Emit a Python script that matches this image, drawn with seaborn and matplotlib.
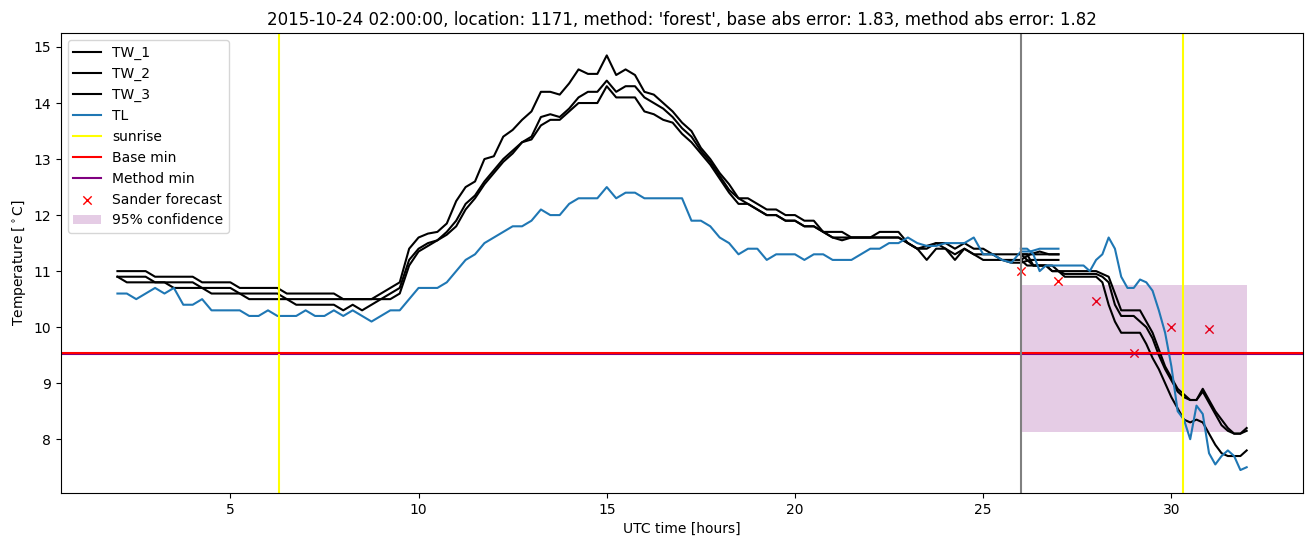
import numpy as np
import seaborn as sns
import matplotlib
matplotlib.use("Agg")
import matplotlib.pyplot as plt

# main window, sampled every 15 minutes from 02:00 to 27:00
hours_main = np.linspace(2, 27, 101)
tw1_main = [11.0, 11.0, 11.0, 11.0, 10.9, 10.9, 10.9, 10.9,
            10.9, 10.8, 10.8, 10.8, 10.8, 10.7, 10.7, 10.7,
            10.7, 10.7, 10.6, 10.6, 10.6, 10.6, 10.6, 10.6,
            10.5, 10.5, 10.5, 10.5, 10.6, 10.7, 10.8, 11.4,
            11.6, 11.67, 11.7, 11.85, 12.25, 12.5, 12.6, 13.0,
            13.05, 13.4, 13.52, 13.7, 13.85, 14.2, 14.2, 14.15,
            14.35, 14.6, 14.52, 14.52, 14.85, 14.5, 14.6, 14.5,
            14.2, 14.15, 14.0, 13.85, 13.65, 13.5, 13.2, 13.0,
            12.75, 12.55, 12.3, 12.3, 12.2, 12.1, 12.1, 12.0,
            12.0, 11.9, 11.9, 11.7, 11.7, 11.7, 11.6, 11.6,
            11.6, 11.7, 11.7, 11.7, 11.5, 11.4, 11.45, 11.5,
            11.5, 11.4, 11.5, 11.4, 11.4, 11.3, 11.3, 11.3,
            11.3, 11.3, 11.35, 11.3, 11.3]
tw2_main = [10.9, 10.9, 10.9, 10.9, 10.8, 10.8, 10.8, 10.8,
            10.8, 10.7, 10.7, 10.7, 10.7, 10.6, 10.6, 10.6,
            10.6, 10.6, 10.5, 10.5, 10.5, 10.5, 10.5, 10.5,
            10.5, 10.5, 10.5, 10.5, 10.5, 10.6, 10.7, 11.2,
            11.4, 11.5, 11.55, 11.7, 11.9, 12.2, 12.35, 12.6,
            12.8, 13.0, 13.15, 13.3, 13.4, 13.75, 13.8, 13.75,
            13.9, 14.1, 14.2, 14.2, 14.4, 14.2, 14.3, 14.3,
            14.1, 14.0, 13.9, 13.75, 13.55, 13.4, 13.15, 12.95,
            12.7, 12.45, 12.3, 12.2, 12.1, 12.0, 12.0, 11.9,
            11.9, 11.8, 11.8, 11.7, 11.6, 11.6, 11.6, 11.6,
            11.6, 11.6, 11.6, 11.6, 11.5, 11.4, 11.2, 11.4,
            11.4, 11.3, 11.4, 11.3, 11.3, 11.3, 11.2, 11.2,
            11.2, 11.3, 11.3, 11.3, 11.3]
tw3_main = [10.9, 10.8, 10.8, 10.8, 10.8, 10.8, 10.7, 10.7,
            10.7, 10.7, 10.6, 10.6, 10.6, 10.6, 10.5, 10.5,
            10.5, 10.5, 10.5, 10.4, 10.4, 10.4, 10.4, 10.4,
            10.3, 10.4, 10.3, 10.4, 10.5, 10.5, 10.6, 11.1,
            11.35, 11.45, 11.55, 11.65, 11.8, 12.1, 12.3, 12.55,
            12.75, 12.95, 13.1, 13.3, 13.35, 13.6, 13.7, 13.7,
            13.85, 14.0, 14.0, 14.0, 14.3, 14.1, 14.1, 14.1,
            13.85, 13.8, 13.7, 13.65, 13.45, 13.3, 13.1, 12.9,
            12.65, 12.4, 12.2, 12.2, 12.1, 12.0, 12.0, 11.9,
            11.9, 11.8, 11.8, 11.7, 11.6, 11.55, 11.6, 11.6,
            11.6, 11.6, 11.6, 11.6, 11.5, 11.4, 11.4, 11.5,
            11.4, 11.2, 11.4, 11.3, 11.2, 11.2, 11.2, 11.15,
            11.15, 11.2, 11.2, 11.2, 11.2]
tl_main = [10.6, 10.6, 10.5, 10.6, 10.7, 10.6, 10.7, 10.4,
           10.4, 10.5, 10.3, 10.3, 10.3, 10.3, 10.2, 10.2,
           10.3, 10.2, 10.2, 10.2, 10.3, 10.2, 10.2, 10.3,
           10.2, 10.3, 10.2, 10.1, 10.2, 10.3, 10.3, 10.5,
           10.7, 10.7, 10.7, 10.8, 11.0, 11.2, 11.3, 11.5,
           11.6, 11.7, 11.8, 11.8, 11.9, 12.1, 12.0, 12.0,
           12.2, 12.3, 12.3, 12.3, 12.5, 12.3, 12.4, 12.4,
           12.3, 12.3, 12.3, 12.3, 12.3, 11.9, 11.9, 11.8,
           11.6, 11.5, 11.3, 11.4, 11.4, 11.2, 11.3, 11.3,
           11.3, 11.2, 11.3, 11.3, 11.2, 11.2, 11.2, 11.3,
           11.4, 11.4, 11.5, 11.5, 11.6, 11.5, 11.45, 11.45,
           11.5, 11.5, 11.5, 11.6, 11.3, 11.3, 11.2, 11.15,
           11.35, 11.35, 11.4, 11.4, 11.4]

# forecast window, every 10 minutes from 26:00 to 32:00
hours_fc = np.linspace(26, 32, 37)
tw1_fc = [11.3, 11.3, 11.1, 11.1, 11.1, 11.1, 11.0, 11.0, 11.0, 11.0, 11.0, 11.0,
          11.0, 10.95, 10.9, 10.6, 10.3, 10.3, 10.3, 10.3, 10.1, 9.9, 9.6, 9.3,
          9.1, 8.9, 8.8, 8.7, 8.7, 8.9, 8.7, 8.5, 8.35, 8.2, 8.1, 8.1, 8.2]
tw2_fc = [11.2, 11.1, 11.1, 11.1, 11.1, 11.0, 11.0, 10.95, 10.95, 10.95, 10.95, 10.95,
          10.95, 10.9, 10.8, 10.4, 10.2, 10.2, 10.2, 10.1, 10.0, 9.8, 9.5, 9.25,
          9.05, 8.85, 8.75, 8.7, 8.7, 8.85, 8.65, 8.45, 8.25, 8.15, 8.1, 8.1, 8.15]
tw3_fc = [11.3, 11.2, 11.1, 11.1, 11.1, 11.0, 11.0, 10.9, 10.9, 10.9, 10.9, 10.9,
          10.9, 10.8, 10.4, 10.1, 9.9, 9.9, 9.9, 9.9, 9.7, 9.45, 9.25, 9.0,
          8.75, 8.55, 8.35, 8.3, 8.35, 8.3, 8.1, 7.9, 7.75, 7.7, 7.7, 7.7, 7.8]
tl_fc = [11.4, 11.4, 11.3, 11.0, 11.1, 11.1, 11.1, 11.1, 11.1, 11.1, 11.1, 11.0,
         11.2, 11.3, 11.6, 11.4, 10.9, 10.7, 10.7, 10.85, 10.8, 10.65, 10.3, 9.9,
         9.3, 8.5, 8.35, 8.0, 8.6, 8.45, 7.75, 7.55, 7.7, 7.8, 7.7, 7.45, 7.5]

sunrise = [6.28, 30.3]
base_min = 9.54
method_min = 9.52
forecast_hours = [26, 27, 28, 29, 30, 31]
forecast_vals = [11.0, 10.82, 10.46, 9.53, 10.0, 9.96]
conf_hours = [26, 32]
conf_low = 8.12
conf_high = 10.75
start_hour = 26

fig, ax = plt.subplots(figsize=(13.11, 5.47), dpi=100)
fig.subplots_adjust(left=0.0465, right=0.994, top=0.9397, bottom=0.0987)

series = [("TW_1", tw1_main, tw1_fc, "black"),
          ("TW_2", tw2_main, tw2_fc, "black"),
          ("TW_3", tw3_main, tw3_fc, "black"),
          ("TL", tl_main, tl_fc, "#1f77b4")]
for name, main, fc, col in series:
    sns.lineplot(x=hours_main, y=main, color=col, label=name, ax=ax, legend=False)
for name, main, fc, col in series:
    sns.lineplot(x=hours_fc, y=fc, color=col, ax=ax, legend=False)

ax.axvline(sunrise[0], color="yellow", label="sunrise")
ax.axvline(sunrise[1], color="yellow")
ax.axhline(base_min, color="red", label="Base min")
ax.axhline(method_min, color="purple", label="Method min", zorder=1.9)
ax.axvline(start_hour, color="gray")

sns.scatterplot(x=forecast_hours, y=forecast_vals, marker="x", color="red",
                s=36, linewidth=1.0, label="Sander forecast", ax=ax, legend=False)
ax.fill_between(conf_hours, conf_low, conf_high, color="purple", alpha=0.2,
                linewidth=0, label="95% confidence")

ax.set_xlim(0.5, 33.5)
ax.set_ylim(7.04, 15.25)
ax.set_xlabel("UTC time [hours]")
ax.set_ylabel(r"Temperature [$^\circ$C]")
ax.set_title("2015-10-24 02:00:00, location: 1171, method: 'forest', "
             "base abs error: 1.83, method abs error: 1.82")
ax.legend(loc="upper left")

plt.savefig("out.png", dpi=100)
